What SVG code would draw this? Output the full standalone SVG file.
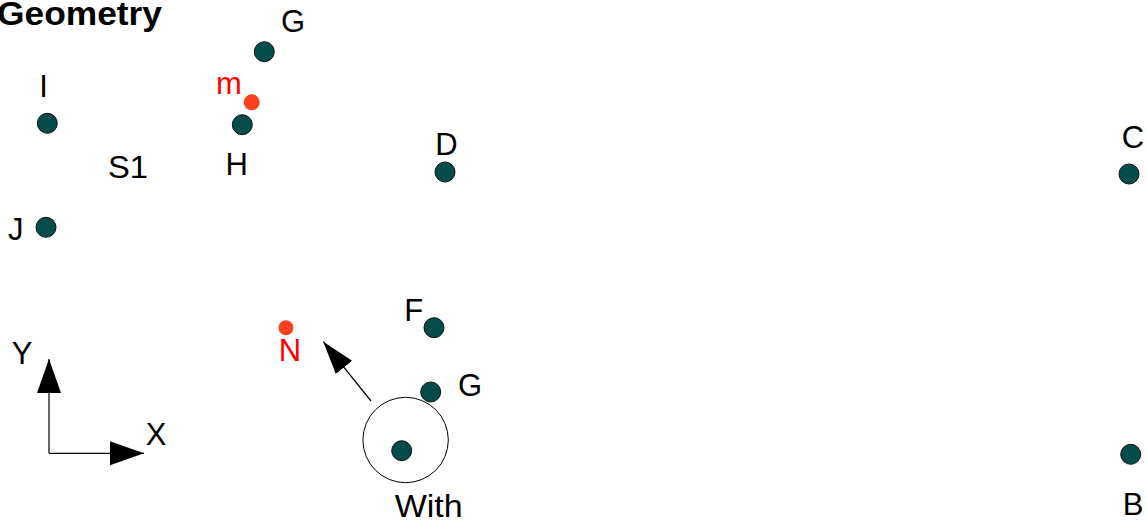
<svg xmlns="http://www.w3.org/2000/svg" width="1147" height="522" viewBox="0 0 1147 522">
<style>
  .lbl { font-family: "Liberation Sans", Arial, sans-serif; font-size: 31px; fill: #000; text-anchor: middle; }
  .red { fill: #ff0000; }
  .dot { fill: #024d4a; stroke: #111; stroke-width: 1; }
  .rdot { fill: #ff4020; stroke: none; }
  .ln { stroke: #000; stroke-width: 1.2; fill: none; }
  .title { font-family: "Liberation Sans", Arial, sans-serif; font-size: 32.5px; font-weight: bold; fill: #000; }
</style>
<defs>
  <marker id="ahBig" markerUnits="userSpaceOnUse" markerWidth="35" markerHeight="25" refX="34" refY="12" orient="auto">
    <path d="M0,0 L34,12 L0,24 Z" fill="#000"/>
  </marker>
  <marker id="ahMid" markerUnits="userSpaceOnUse" markerWidth="34" markerHeight="22" refX="33" refY="10.5" orient="auto">
    <path d="M0,0 L33,10.5 L0,21 Z" fill="#000"/>
  </marker>
</defs>
<rect width="1147" height="522" fill="#fff"/>

<text id="title" class="title" x="-3" y="25" textLength="165" lengthAdjust="spacingAndGlyphs">Geometry</text>

<g id="connectors">
  <path class="ln" d="M49,453.3 L49,359" marker-end="url(#ahBig)"/>
  <path class="ln" d="M49,453.3 L144,453.3" marker-end="url(#ahBig)"/>
  <path class="ln" d="M371,401 L323.3,341.7" marker-end="url(#ahMid)"/>
</g>

<g id="axisY"><text class="lbl" x="22" y="364.3">Y</text></g>
<g id="axisX"><text class="lbl" x="156.2" y="445">X</text></g>

<g id="S1"><text class="lbl" x="108" y="178.3" style="text-anchor:start" textLength="40" lengthAdjust="spacingAndGlyphs">S1</text></g>

<g id="nodeG1">
  <circle class="dot" cx="264.3" cy="51.7" r="10"/>
  <text class="lbl" x="293" y="32">G</text>
</g>
<g id="nodeI">
  <circle class="dot" cx="47.3" cy="123.3" r="10"/>
  <text class="lbl" x="43.5" y="96.7">I</text>
</g>
<g id="nodeM">
  <circle class="rdot" cx="251.7" cy="102.3" r="8"/>
  <text class="lbl red" x="229" y="94.3">m</text>
</g>
<g id="nodeH">
  <circle class="dot" cx="242.3" cy="124.7" r="10"/>
  <text class="lbl" x="236.7" y="175">H</text>
</g>
<g id="nodeJ">
  <circle class="dot" cx="46" cy="227.3" r="10"/>
  <text class="lbl" x="15.8" y="240">J</text>
</g>
<g id="nodeD">
  <circle class="dot" cx="445" cy="172" r="10"/>
  <text class="lbl" x="446.5" y="155">D</text>
</g>
<g id="nodeC">
  <circle class="dot" cx="1129" cy="174" r="10"/>
  <text class="lbl" x="1133" y="148.3">C</text>
</g>
<g id="nodeB">
  <circle class="dot" cx="1130.7" cy="454.3" r="10"/>
  <text class="lbl" x="1133" y="515">B</text>
</g>
<g id="nodeF">
  <circle class="dot" cx="434" cy="327.7" r="10"/>
  <text class="lbl" x="413.7" y="320.7">F</text>
</g>
<g id="nodeN">
  <circle class="rdot" cx="286" cy="327.7" r="7.5"/>
  <text class="lbl red" x="290" y="361">N</text>
</g>
<g id="nodeWith">
  <circle class="ln" cx="405.6" cy="440" r="42.7" style="stroke-width:1"/>
  <circle class="dot" cx="401.7" cy="450.7" r="10"/>
  <text class="lbl" x="394.7" y="516.7" style="text-anchor:start" textLength="68" lengthAdjust="spacingAndGlyphs">With</text>
</g>
<g id="nodeG2">
  <circle class="dot" cx="430.7" cy="392" r="10"/>
  <text class="lbl" x="470" y="396">G</text>
</g>
</svg>
